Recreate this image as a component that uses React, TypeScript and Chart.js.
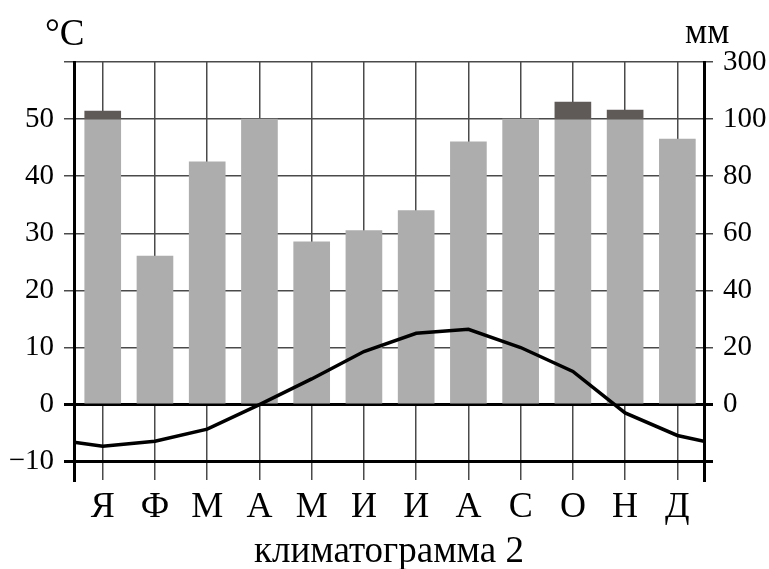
import React, { useEffect, useRef } from "react";
import { Chart, registerables } from "chart.js";

Chart.register(...registerables);

// ---- data ----
const MONTHS = ["Я", "Ф", "М", "А", "М", "И", "И", "А", "С", "О", "Н", "Д"];
// precipitation, mm (scale: 0–100 mm linear, 100–300 mm compressed into the top band)
const PRECIP_MM = [128, 52, 85, 100, 57, 61, 68, 92, 100, 160, 132, 93];
// mean monthly temperature, °C
const TEMP_C = [-7.3, -6.4, -4.3, 0, 4.5, 9.3, 12.5, 13.2, 10.0, 5.8, -1.45, -5.4];
// temperature where the curve meets the left / right frame (Dec→Jan wrap)
const TEMP_EDGE_START = -6.6;
const TEMP_EDGE_END = -6.4;
// axis ticks
const TEMP_TICKS = [-10, 0, 10, 20, 30, 40, 50, 60];
const TEMP_TICK_LABELS = ["−10", "0", "10", "20", "30", "40", "50", ""];
const MM_TICK_LABELS = ["", "0", "20", "40", "60", "80", "100", "300"];
const MM_BREAK = 100;
const MM_TOP = 300;

const SERIF = "'Liberation Serif', 'Times New Roman', serif";

const X_MIN = -0.55;
const X_MAX = 11.51;
const Y_MIN = -13.2;
const Y_MAX = 60;

// mm value -> position on the °C axis (20 mm per 10 °C up to 100 mm, then 200 mm per 10 °C)
const mmToAxis = (mm: number) =>
  mm <= MM_BREAK ? mm / 2 : 50 + ((mm - MM_BREAK) / (MM_TOP - MM_BREAK)) * 10;

const isStrong = (v: number) => v === 0 || v === -10;

const textPlugin = {
  id: "extraText",
  afterDraw(chart: any) {
    const { ctx, chartArea: a } = chart;
    ctx.save();
    ctx.fillStyle = "#000";
    ctx.textBaseline = "alphabetic";
    ctx.textAlign = "left";
    ctx.font = `37px ${SERIF}`;
    ctx.fillText("°C", a.left - 29, a.top - 17);
    ctx.font = `35px ${SERIF}`;
    ctx.fillText("мм", a.right - 19, a.top - 19);
    ctx.textAlign = "center";
    ctx.font = `37px ${SERIF}`;
    ctx.fillText("климатограмма 2", (a.left + a.right) / 2, chart.height - 7);
    ctx.restore();
  },
};

export default function App() {
  const ref = useRef<HTMLCanvasElement>(null);

  useEffect(() => {
    if (!ref.current) return;

    const linePts = [
      { x: X_MIN, y: TEMP_EDGE_START },
      ...TEMP_C.map((t, i) => ({ x: i, y: t })),
      { x: X_MAX, y: TEMP_EDGE_END },
    ];
    const grayBars = PRECIP_MM.map((mm, i) => ({ x: i, y: [0, mmToAxis(Math.min(mm, MM_BREAK))] }));
    const darkBars = PRECIP_MM.map((mm, i) =>
      mm > MM_BREAK ? { x: i, y: [mmToAxis(MM_BREAK), mmToAxis(mm)] } : null
    ).filter(Boolean);

    const gridColor = (c: any) => (c.tick && isStrong(c.tick.value) ? "#000" : "#4a4a4a");
    const gridWidth = (c: any) => (c.tick && isStrong(c.tick.value) ? 3 : 1.5);
    const setTempTicks = (s: any) => {
      s.ticks = TEMP_TICKS.map((v) => ({ value: v }));
    };

    const chart = new Chart(ref.current, {
      type: "bar",
      data: {
        datasets: [
          {
            type: "line",
            data: linePts as any,
            borderColor: "#000",
            borderWidth: 3.5,
            pointRadius: 0,
            tension: 0,
            order: 0,
            yAxisID: "y",
          } as any,
          {
            type: "bar",
            data: darkBars as any,
            backgroundColor: "#5f5a58",
            barThickness: 36,
            grouped: false,
            order: 1,
            yAxisID: "y",
          } as any,
          {
            type: "bar",
            data: grayBars as any,
            backgroundColor: "#adadad",
            barThickness: 36,
            grouped: false,
            order: 2,
            yAxisID: "y",
          } as any,
        ],
      },
      options: {
        animation: false,
        responsive: false,
        maintainAspectRatio: false,
        layout: { padding: { top: 62, left: 0, right: 0, bottom: 0 } },
        plugins: { legend: { display: false }, tooltip: { enabled: false }, title: { display: false } },
        scales: {
          x: {
            type: "linear",
            min: X_MIN,
            max: X_MAX,
            offset: false,
            z: 1,
            afterBuildTicks: (s: any) => {
              s.ticks = MONTHS.map((_, i) => ({ value: i }));
            },
            afterFit: (s: any) => {
              s.height = 89;
            },
            ticks: {
              callback: (_v: any, i: number) => MONTHS[i],
              font: { family: SERIF, size: 36 },
              color: "#000",
              padding: 6,
              autoSkip: false,
              maxRotation: 0,
            },
            grid: { color: "#4a4a4a", lineWidth: 1.5, drawTicks: false, offset: false },
            border: { display: false },
          },
          y: {
            position: "left",
            min: Y_MIN,
            max: Y_MAX,
            z: 1,
            afterBuildTicks: setTempTicks,
            afterFit: (s: any) => {
              s.width = 74;
            },
            ticks: {
              callback: (_v: any, i: number) => TEMP_TICK_LABELS[i],
              font: { family: SERIF, size: 29 },
              color: "#000",
              padding: 10,
            },
            grid: { color: gridColor, lineWidth: gridWidth, tickLength: 10 },
            border: { color: "#000", width: 3 },
          },
          y1: {
            position: "right",
            min: Y_MIN,
            max: Y_MAX,
            z: 1,
            afterBuildTicks: setTempTicks,
            afterFit: (s: any) => {
              s.width = 65;
            },
            ticks: {
              callback: (_v: any, i: number) => MM_TICK_LABELS[i],
              font: { family: SERIF, size: 29 },
              color: "#000",
              padding: 10,
            },
            grid: { color: gridColor, lineWidth: gridWidth, tickLength: 9, drawOnChartArea: false },
            border: { color: "#000", width: 3 },
          },
        },
      } as any,
      plugins: [textPlugin],
    });

    return () => chart.destroy();
  }, []);

  return (
    <div style={{ position: "absolute", left: 0, top: 0, width: 769, height: 569, background: "#fff" }}>
      <canvas ref={ref} width={769} height={569} />
    </div>
  );
}
